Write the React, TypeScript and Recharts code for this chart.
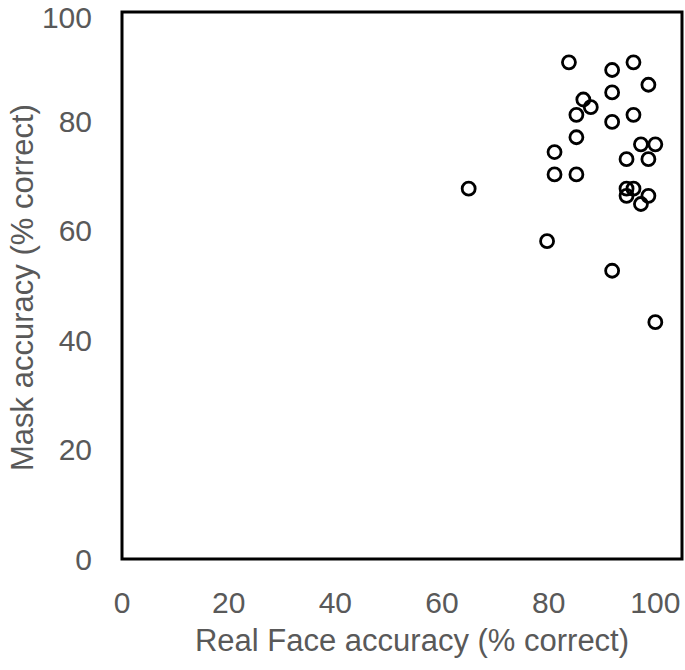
import { ScatterChart, Scatter, XAxis, YAxis, ReferenceArea } from "recharts";

// accuracy per participant (% correct)
const realFace = [
  83.8, 95.9, 91.9, 98.7, 91.9, 86.5, 87.9, 85.2, 95.9, 91.9, 85.2, 97.3, 100.0, 81.1,
  94.6, 98.7, 81.1, 85.2, 65.0, 94.6, 95.9, 94.6, 98.7, 97.3, 79.7, 91.9, 100.0,
];
const mask = [
  90.8, 90.8, 89.4, 86.7, 85.3, 84.0, 82.6, 81.2, 81.2, 79.9, 77.1, 75.8, 75.8, 74.4,
  73.1, 73.1, 70.3, 70.3, 67.7, 67.7, 67.7, 66.4, 66.4, 64.9, 58.1, 52.7, 43.3,
];
const xTicks = [0, 20, 40, 60, 80, 100];
const yTicks = [0, 20, 40, 60, 80, 100];

const data = realFace.map((x, i) => ({ x, y: mask[i] }));

const FONT = "'Liberation Sans', Arial, Helvetica, sans-serif";
const GREY = "#595959";

const Ring = (props: any) => (
  <circle cx={props.cx} cy={props.cy} r={6.5} fill="none" stroke="#000" strokeWidth={2.8} />
);

export default function App() {
  return (
    <div style={{ position: "absolute", left: 0, top: 0, background: "#fff" }}>
      <ScatterChart
        width={685}
        height={670}
        margin={{ top: 12, right: 3, bottom: 0, left: 0 }}
        style={{ fontFamily: FONT }}
      >
        <XAxis
          type="number"
          dataKey="x"
          domain={[0, 105]}
          ticks={xTicks}
          allowDataOverflow
          axisLine={false}
          tickLine={false}
          tickSize={0}
          tickMargin={33}
          height={111}
          tick={{ fontSize: 30, fill: GREY }}
          label={{
            content: ({ viewBox }: any) => (
              <text
                x={viewBox.x + viewBox.width / 2 + 10}
                y={651}
                textAnchor="middle"
                fontSize={31}
                fill={GREY}
              >
                Real Face accuracy (% correct)
              </text>
            ),
          }}
        />
        <YAxis
          type="number"
          dataKey="y"
          domain={[0, 100]}
          ticks={yTicks}
          allowDataOverflow
          axisLine={false}
          tickLine={false}
          tickSize={0}
          tickMargin={30}
          width={122}
          tick={{ fontSize: 30, fill: GREY }}
          label={{
            content: ({ viewBox }: any) => {
              const cy = viewBox.y + viewBox.height / 2 + 2;
              return (
                <text
                  x={33}
                  y={cy}
                  transform={`rotate(-90, 33, ${cy})`}
                  textAnchor="middle"
                  fontSize={31}
                  fill={GREY}
                >
                  Mask accuracy (% correct)
                </text>
              );
            },
          }}
        />
        <ReferenceArea x1={0} x2={105} y1={0} y2={100} fill="none" stroke="#000" strokeWidth={3} />
        <Scatter data={data} shape={Ring} isAnimationActive={false} />
      </ScatterChart>
    </div>
  );
}
